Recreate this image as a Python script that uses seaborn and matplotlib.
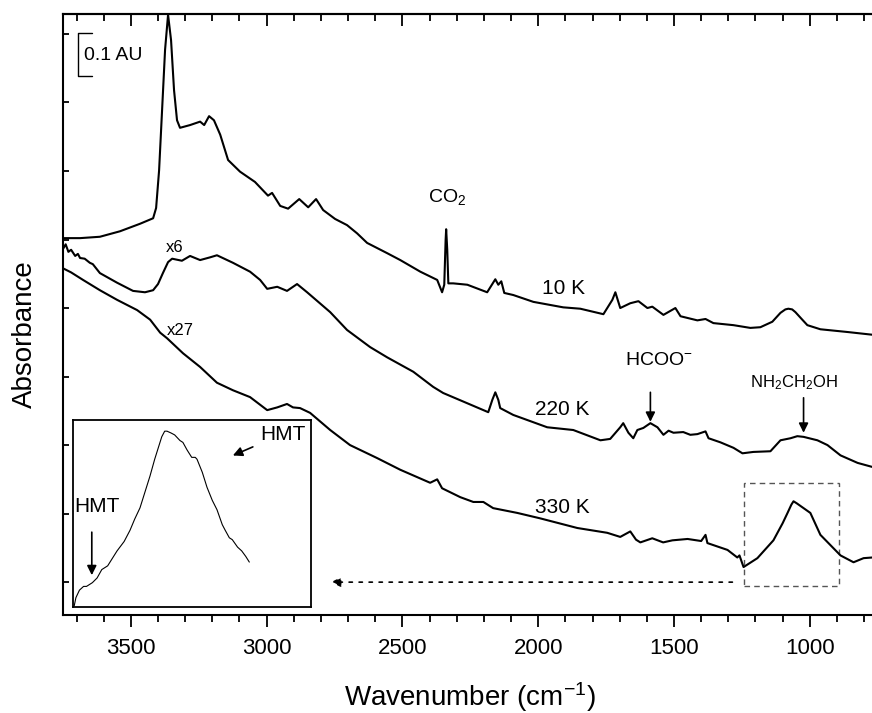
import seaborn as sns
import matplotlib.pyplot as plt
from matplotlib.ticker import MultipleLocator, NullFormatter
from matplotlib.patches import Rectangle

# spectra (wavenumber in cm-1, offset absorbance in tick units)
wn_10k = [3750, 3687, 3614, 3540, 3466, 3418, 3407, 3396, 3385, 3374, 3363, 3352, 3341,
          3330, 3319, 3282, 3245, 3230, 3212, 3194, 3171, 3142, 3098, 3043, 2995, 2980,
          2950, 2921, 2880, 2847, 2818, 2792, 2748, 2704, 2667, 2630, 2556, 2508, 2434,
          2372, 2354, 2346, 2341, 2339, 2335, 2331, 2313, 2261, 2188, 2158, 2147, 2136,
          2125, 2092, 2018, 1908, 1845, 1760, 1727, 1716, 1698, 1661, 1631, 1598, 1580,
          1539, 1495, 1476, 1414, 1384, 1355, 1281, 1219, 1182, 1138, 1108, 1090, 1079,
          1065, 1053, 1030, 1009, 961, 861, 769]
abs_10k = [5.02, 5.02, 5.04, 5.12, 5.23, 5.31, 5.46, 6.01, 6.89, 7.77, 8.28, 7.91, 7.18,
           6.74, 6.63, 6.67, 6.72, 6.67, 6.80, 6.74, 6.53, 6.16, 5.99, 5.84, 5.64, 5.68,
           5.49, 5.45, 5.59, 5.47, 5.59, 5.43, 5.30, 5.21, 5.09, 4.95, 4.80, 4.70, 4.53,
           4.41, 4.23, 4.34, 4.99, 5.15, 4.85, 4.36, 4.36, 4.34, 4.23, 4.42, 4.34, 4.39,
           4.22, 4.19, 4.09, 4.01, 3.99, 3.91, 4.12, 4.23, 4.00, 4.07, 4.10, 4.00, 4.02,
           3.90, 4.00, 3.88, 3.82, 3.84, 3.78, 3.75, 3.71, 3.72, 3.80, 3.93, 3.98, 3.99,
           3.98, 3.94, 3.84, 3.75, 3.69, 3.65, 3.61]

wn_220k = [3750, 3740, 3730, 3720, 3705, 3695, 3687, 3670, 3651, 3640, 3614, 3551, 3492,
           3448, 3418, 3400, 3382, 3363, 3348, 3312, 3282, 3245, 3208, 3183, 3124, 3061,
           3024, 2998, 2961, 2925, 2888, 2851, 2766, 2704, 2619, 2556, 2460, 2387, 2350,
           2261, 2184, 2169, 2158, 2147, 2140, 2092, 1967, 1871, 1771, 1735, 1698, 1687,
           1668, 1650, 1635, 1613, 1587, 1561, 1539, 1520, 1502, 1466, 1440, 1414, 1384,
           1373, 1329, 1281, 1248, 1208, 1145, 1108, 1071, 1046, 1023, 972, 935, 887,
           824, 769]
abs_220k = [4.86, 4.93, 4.82, 4.85, 4.76, 4.79, 4.73, 4.72, 4.66, 4.64, 4.51, 4.37, 4.25,
            4.23, 4.26, 4.35, 4.51, 4.67, 4.72, 4.69, 4.76, 4.70, 4.74, 4.77, 4.66, 4.53,
            4.41, 4.28, 4.31, 4.25, 4.35, 4.23, 3.94, 3.68, 3.43, 3.28, 3.07, 2.85, 2.76,
            2.61, 2.48, 2.66, 2.77, 2.66, 2.54, 2.44, 2.26, 2.22, 2.07, 2.09, 2.26, 2.32,
            2.18, 2.10, 2.22, 2.25, 2.32, 2.26, 2.15, 2.21, 2.18, 2.19, 2.15, 2.16, 2.20,
            2.10, 2.04, 1.96, 1.88, 1.90, 1.91, 2.07, 2.10, 2.13, 2.12, 2.07, 2.00, 1.85,
            1.74, 1.68]

wn_330k = [3750, 3720, 3676, 3614, 3551, 3477, 3429, 3392, 3367, 3308, 3245, 3183, 3124,
           3061, 2998, 2961, 2925, 2903, 2877, 2840, 2766, 2693, 2593, 2508, 2398, 2372,
           2354, 2287, 2239, 2202, 2166, 2077, 1992, 1856, 1746, 1698, 1661, 1640, 1624,
           1580, 1540, 1506, 1450, 1400, 1384, 1377, 1303, 1267, 1259, 1244, 1193, 1134,
           1100, 1082, 1068, 1060, 1048, 1023, 998, 961, 924, 887, 839, 802, 769]
abs_330k = [4.58, 4.52, 4.41, 4.26, 4.12, 3.97, 3.83, 3.64, 3.56, 3.34, 3.14, 2.91, 2.80,
            2.70, 2.51, 2.55, 2.60, 2.55, 2.54, 2.47, 2.22, 2.00, 1.81, 1.64, 1.45, 1.50,
            1.37, 1.24, 1.17, 1.17, 1.08, 1.01, 0.93, 0.79, 0.72, 0.66, 0.74, 0.62, 0.58,
            0.64, 0.58, 0.61, 0.63, 0.60, 0.69, 0.57, 0.47, 0.36, 0.39, 0.22, 0.35, 0.61,
            0.86, 1.01, 1.13, 1.18, 1.15, 1.08, 1.01, 0.69, 0.54, 0.39, 0.29, 0.35, 0.36]

# zoomed 330 K band shown in the inset
wn_inset = [1243, 1240, 1234, 1227, 1222, 1217, 1212, 1204, 1196, 1186, 1170, 1158, 1148,
            1140, 1131, 1123, 1114, 1106, 1101, 1094, 1089, 1085, 1078, 1072, 1063, 1058,
            1051, 1043, 1037, 1034, 1025, 1017, 1008, 1000, 991, 986, 979, 974, 965, 958,
            951, 945]
abs_inset = [0.005, 0.05, 0.09, 0.11, 0.11, 0.12, 0.13, 0.155, 0.20, 0.22, 0.30, 0.35, 0.41,
             0.47, 0.53, 0.61, 0.70, 0.79, 0.84, 0.91, 0.94, 0.94, 0.93, 0.92, 0.89, 0.88,
             0.84, 0.80, 0.80, 0.79, 0.72, 0.64, 0.57, 0.52, 0.44, 0.41, 0.37, 0.36, 0.32,
             0.30, 0.27, 0.24]

sns.set_style('ticks')
plt.rcParams['font.family'] = ['Liberation Sans', 'DejaVu Sans']
plt.rcParams['mathtext.fontset'] = 'custom'
plt.rcParams['mathtext.rm'] = 'Liberation Sans'
plt.rcParams['mathtext.it'] = 'Liberation Sans:italic'
plt.rcParams['mathtext.default'] = 'regular'
plt.rcParams['text.color'] = 'black'
plt.rcParams['axes.labelcolor'] = 'black'
plt.rcParams['xtick.color'] = 'black'
plt.rcParams['ytick.color'] = 'black'
plt.rcParams['axes.edgecolor'] = 'black'

fig = plt.figure(figsize=(8.72, 7.13), dpi=100)
ax = fig.add_axes([0.0722, 0.1374, 0.9278, 0.8429])

for wn, a in [(wn_10k, abs_10k), (wn_220k, abs_220k), (wn_330k, abs_330k)]:
    sns.lineplot(x=wn, y=a, ax=ax, color='black', lw=1.5, estimator=None, sort=False)

ax.set_xlim(3750, 771)
ax.set_ylim(-0.48, 8.29)

ax.xaxis.set_major_locator(MultipleLocator(500))
ax.xaxis.set_minor_locator(MultipleLocator(100))
ax.yaxis.set_major_locator(MultipleLocator(1))
ax.yaxis.set_major_formatter(NullFormatter())
ax.tick_params(axis='x', which='major', direction='out', length=8.5, width=1.3,
               labelsize=16, pad=8)
ax.tick_params(axis='x', which='minor', direction='out', length=5, width=1.3)
ax.tick_params(axis='y', direction='in', length=4, width=1.3)
for s in ['left', 'bottom', 'top']:
    ax.spines[s].set_linewidth(1.5)
ax.spines['right'].set_visible(False)

top = ax.secondary_xaxis('top')
top.xaxis.set_major_locator(MultipleLocator(500))
top.xaxis.set_minor_locator(MultipleLocator(100))
top.xaxis.set_major_formatter(NullFormatter())
top.tick_params(which='major', direction='in', length=8.5, width=1.3)
top.tick_params(which='minor', direction='in', length=5, width=1.3)
top.spines['top'].set_linewidth(1.5)

ax.set_xlabel('Wavenumber (cm$^{-1}$)', fontsize=20)
ax.xaxis.set_label_coords(0.503, -0.108)
ax.set_ylabel('Absorbance', fontsize=20)
ax.yaxis.set_label_coords(-0.031, 0.467)

# labels
ax.text(2335, 5.55, 'CO$_2$', fontsize=14, ha='center', va='baseline')
ax.text(1908, 4.20, '10 K', fontsize=15, ha='center', va='baseline')
ax.text(1911, 2.44, '220 K', fontsize=15, ha='center', va='baseline')
ax.text(1911, 1.01, '330 K', fontsize=15, ha='center', va='baseline')
ax.text(3337, 4.82, 'x6', fontsize=12, ha='center', va='baseline')
ax.text(3319, 3.61, 'x27', fontsize=12, ha='center', va='baseline')
ax.text(1556, 3.17, 'HCOO$^{-}$', fontsize=14, ha='center', va='baseline')
ax.text(1060, 2.85, 'NH$_2$CH$_2$OH', fontsize=12, ha='center', va='baseline')

arrow = dict(arrowstyle='-|>', color='black', lw=1.2, mutation_scale=14,
             shrinkA=0, shrinkB=0)
ax.annotate('', xy=(1587, 2.34), xytext=(1587, 2.77), arrowprops=arrow)
ax.annotate('', xy=(1023, 2.18), xytext=(1023, 2.69), arrowprops=arrow)

# 0.1 AU scale bar
ax.plot([3643, 3695, 3695, 3643], [8.01, 8.01, 7.39, 7.39], color='black', lw=1)
ax.text(3673, 7.62, '0.1 AU', fontsize=14, ha='left', va='baseline')

# zoom box and dotted pointer to the inset
ax.add_patch(Rectangle((1244, -0.06), -350, 1.51, fill=False, ec='#555555', lw=1,
                       ls=(0, (4, 3))))
ax.annotate('', xy=(2763, 0.0), xytext=(1285, 0.0),
            arrowprops=dict(arrowstyle='-|>', color='black', lw=1.2, mutation_scale=14,
                            shrinkA=0, shrinkB=0, linestyle=(0, (2, 4))))

ins = fig.add_axes([0.0837, 0.1487, 0.273, 0.2623])
sns.lineplot(x=wn_inset, y=abs_inset, ax=ins, color='black', lw=0.8, estimator=None,
             sort=False)
ins.set_xlim(1245, 840)
ins.set_ylim(0, 1)
ins.set_xticks([])
ins.set_yticks([])
ins.set_xlabel('')
ins.set_ylabel('')
for s in ins.spines.values():
    s.set_linewidth(1.3)
ins.text(1242, 0.508, 'HMT', fontsize=15, ha='left', va='baseline')
ins.annotate('', xy=(1213, 0.17), xytext=(1213, 0.40), arrowprops=arrow)
ins.text(927, 0.893, 'HMT', fontsize=15, ha='left', va='baseline')
ins.annotate('', xy=(973, 0.81), xytext=(939, 0.856), arrowprops=arrow)

fig.savefig('out.png', dpi=100)
